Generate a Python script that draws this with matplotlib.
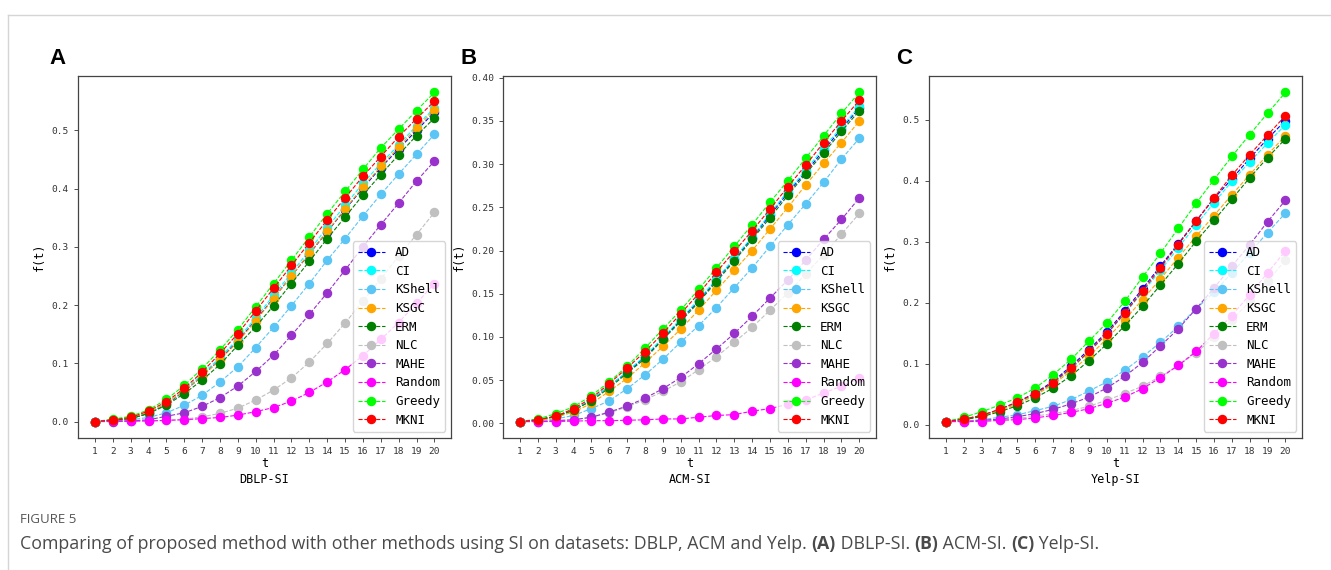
import matplotlib
matplotlib.use('Agg')
import matplotlib.pyplot as plt
from matplotlib.lines import Line2D

t = list(range(1, 21))
methods = ['AD', 'CI', 'KShell', 'KSGC', 'ERM', 'NLC', 'MAHE', 'Random', 'Greedy', 'MKNI']
colors = ['blue', 'cyan', '#5bc5f5', 'orange', 'green', 'silver', 'darkorchid', 'magenta', 'lime', 'red']

# DBLP-SI
dblp = {
    'AD': [0.0, 0.002, 0.005, 0.014, 0.030, 0.052, 0.078, 0.107, 0.139, 0.174, 0.212, 0.250, 0.288, 0.326, 0.364, 0.401, 0.436, 0.468, 0.500, 0.531],
    'CI': [0.0, 0.002, 0.006, 0.015, 0.031, 0.054, 0.081, 0.110, 0.142, 0.178, 0.217, 0.255, 0.294, 0.333, 0.371, 0.409, 0.443, 0.475, 0.508, 0.538],
    'KShell': [0.0, 0.001, 0.003, 0.007, 0.015, 0.028, 0.045, 0.068, 0.094, 0.127, 0.162, 0.199, 0.237, 0.277, 0.314, 0.353, 0.390, 0.425, 0.459, 0.493],
    'KSGC': [0.0, 0.002, 0.006, 0.015, 0.031, 0.053, 0.078, 0.106, 0.137, 0.173, 0.211, 0.250, 0.289, 0.327, 0.365, 0.403, 0.438, 0.471, 0.504, 0.535],
    'ERM': [0.0, 0.002, 0.005, 0.014, 0.028, 0.048, 0.071, 0.098, 0.131, 0.163, 0.199, 0.237, 0.275, 0.314, 0.351, 0.389, 0.424, 0.458, 0.491, 0.521],
    'NLC': [0.0, 0.0, 0.0005, 0.001, 0.002, 0.004, 0.008, 0.014, 0.023, 0.037, 0.054, 0.075, 0.102, 0.134, 0.169, 0.207, 0.245, 0.284, 0.321, 0.359],
    'MAHE': [0.0, 0.0, 0.001, 0.003, 0.009, 0.015, 0.026, 0.041, 0.061, 0.086, 0.114, 0.148, 0.184, 0.221, 0.260, 0.300, 0.338, 0.375, 0.413, 0.447],
    'Random': [0.0, 0.0005, 0.001, 0.001, 0.002, 0.003, 0.005, 0.007, 0.011, 0.017, 0.024, 0.035, 0.050, 0.068, 0.089, 0.113, 0.141, 0.170, 0.203, 0.237],
    'Greedy': [0.0, 0.004, 0.009, 0.020, 0.038, 0.062, 0.091, 0.123, 0.158, 0.197, 0.237, 0.277, 0.317, 0.357, 0.395, 0.433, 0.470, 0.502, 0.534, 0.565],
    'MKNI': [0.0, 0.003, 0.007, 0.018, 0.034, 0.057, 0.085, 0.117, 0.151, 0.190, 0.229, 0.268, 0.307, 0.346, 0.384, 0.421, 0.455, 0.489, 0.520, 0.550],
}

# ACM-SI
acm = {
    'AD': [0.002, 0.004, 0.008, 0.015, 0.027, 0.043, 0.059, 0.077, 0.098, 0.120, 0.142, 0.166, 0.190, 0.215, 0.241, 0.267, 0.291, 0.316, 0.341, 0.365],
    'CI': [0.002, 0.004, 0.008, 0.015, 0.027, 0.043, 0.060, 0.078, 0.099, 0.121, 0.143, 0.167, 0.191, 0.216, 0.243, 0.269, 0.293, 0.319, 0.343, 0.367],
    'KShell': [0.002, 0.003, 0.005, 0.009, 0.017, 0.026, 0.040, 0.056, 0.074, 0.094, 0.113, 0.134, 0.157, 0.180, 0.205, 0.230, 0.254, 0.279, 0.306, 0.330],
    'KSGC': [0.002, 0.003, 0.007, 0.013, 0.023, 0.037, 0.052, 0.070, 0.089, 0.109, 0.131, 0.154, 0.177, 0.200, 0.225, 0.250, 0.276, 0.301, 0.325, 0.350],
    'ERM': [0.002, 0.004, 0.008, 0.015, 0.026, 0.041, 0.058, 0.075, 0.097, 0.118, 0.140, 0.164, 0.188, 0.213, 0.238, 0.264, 0.289, 0.313, 0.338, 0.362],
    'NLC': [0.002, 0.002, 0.003, 0.004, 0.007, 0.012, 0.019, 0.027, 0.037, 0.048, 0.062, 0.077, 0.094, 0.111, 0.131, 0.151, 0.173, 0.195, 0.219, 0.243],
    'MAHE': [0.002, 0.002, 0.003, 0.004, 0.007, 0.013, 0.020, 0.029, 0.040, 0.053, 0.069, 0.086, 0.104, 0.124, 0.145, 0.166, 0.189, 0.213, 0.236, 0.261],
    'Random': [0.002, 0.002, 0.002, 0.0025, 0.003, 0.003, 0.0035, 0.004, 0.005, 0.005, 0.007, 0.009, 0.010, 0.014, 0.017, 0.022, 0.027, 0.035, 0.043, 0.052],
    'Greedy': [0.002, 0.005, 0.011, 0.019, 0.032, 0.048, 0.066, 0.087, 0.109, 0.131, 0.155, 0.180, 0.205, 0.230, 0.256, 0.281, 0.307, 0.333, 0.359, 0.383],
    'MKNI': [0.002, 0.004, 0.008, 0.017, 0.029, 0.046, 0.064, 0.083, 0.104, 0.127, 0.150, 0.175, 0.199, 0.223, 0.248, 0.274, 0.299, 0.325, 0.350, 0.374],
}

# Yelp-SI
yelp = {
    'AD': [0.005, 0.009, 0.015, 0.025, 0.037, 0.052, 0.071, 0.096, 0.123, 0.152, 0.186, 0.223, 0.260, 0.297, 0.334, 0.371, 0.403, 0.437, 0.469, 0.499],
    'CI': [0.005, 0.009, 0.015, 0.024, 0.036, 0.049, 0.068, 0.091, 0.119, 0.148, 0.182, 0.217, 0.253, 0.290, 0.328, 0.364, 0.399, 0.431, 0.462, 0.492],
    'KShell': [0.005, 0.006, 0.008, 0.012, 0.016, 0.023, 0.030, 0.041, 0.055, 0.070, 0.089, 0.111, 0.135, 0.161, 0.190, 0.217, 0.249, 0.282, 0.315, 0.347],
    'KSGC': [0.005, 0.008, 0.014, 0.023, 0.034, 0.048, 0.066, 0.088, 0.112, 0.141, 0.172, 0.205, 0.239, 0.274, 0.309, 0.343, 0.377, 0.410, 0.443, 0.474],
    'ERM': [0.005, 0.008, 0.013, 0.021, 0.031, 0.044, 0.060, 0.080, 0.105, 0.132, 0.162, 0.194, 0.229, 0.264, 0.301, 0.335, 0.370, 0.405, 0.438, 0.469],
    'NLC': [0.005, 0.006, 0.007, 0.008, 0.010, 0.014, 0.018, 0.023, 0.030, 0.040, 0.051, 0.063, 0.079, 0.097, 0.118, 0.143, 0.171, 0.202, 0.235, 0.270],
    'MAHE': [0.005, 0.005, 0.007, 0.009, 0.013, 0.018, 0.025, 0.034, 0.045, 0.060, 0.079, 0.102, 0.129, 0.157, 0.190, 0.224, 0.260, 0.295, 0.333, 0.368],
    'Random': [0.005, 0.005, 0.005, 0.007, 0.008, 0.011, 0.015, 0.020, 0.026, 0.035, 0.045, 0.059, 0.077, 0.097, 0.120, 0.149, 0.179, 0.213, 0.249, 0.285],
    'Greedy': [0.005, 0.012, 0.021, 0.032, 0.044, 0.060, 0.082, 0.107, 0.137, 0.167, 0.202, 0.242, 0.281, 0.322, 0.363, 0.402, 0.440, 0.476, 0.511, 0.545],
    'MKNI': [0.005, 0.009, 0.015, 0.025, 0.037, 0.051, 0.069, 0.093, 0.120, 0.149, 0.183, 0.219, 0.257, 0.295, 0.334, 0.372, 0.409, 0.443, 0.475, 0.507],
}

datasets = [dblp, acm, yelp]
names = ['DBLP-SI', 'ACM-SI', 'Yelp-SI']
letters = ['A', 'B', 'C']

mono = 'DejaVu Sans Mono'
fig = plt.figure(figsize=(13.31, 5.70), dpi=100)

# panel geometry (figure fractions)
lefts = [0.0586, 0.3779, 0.698]
letter_x = [0.037, 0.346, 0.673]
for i, data in enumerate(datasets):
    ax = fig.add_axes([lefts[i], 0.2316, 0.2805, 0.635])
    for m, c in zip(methods, colors):
        ax.plot(t, data[m], linestyle='--', marker='o', color=c, linewidth=0.8,
                markersize=5.8, label=m)
    ax.set_xticks(t)
    for lab in ax.get_xticklabels() + ax.get_yticklabels():
        lab.set_fontfamily(mono)
        lab.set_fontsize(6.8)
        lab.set_color('#333333')
    if i == 1:
        ax.yaxis.set_major_formatter(matplotlib.ticker.FormatStrFormatter('%.2f'))
    ax.tick_params(length=3, width=0.6, colors='#333333')
    for s in ax.spines.values():
        s.set_color('#444444')
        s.set_linewidth(0.9)
    ax.set_xlabel('t\n' + names[i], fontfamily=mono, fontsize=8.5, linespacing=1.3, labelpad=1)
    ax.set_ylabel('f(t)', fontfamily=mono, fontsize=8.5, labelpad=4)
    ax.legend(loc='lower right', prop={'family': mono, 'size': 9}, handlelength=2.2,
              borderpad=0.4, labelspacing=0.45)
    fig.text(letter_x[i], 0.897, letters[i], fontfamily='Liberation Sans', fontweight='bold',
             fontsize=16, va='center', ha='left')

# journal frame lines
fig.add_artist(Line2D([0.006, 1.0], [0.974, 0.974], color='#d5d5d5', linewidth=1))
fig.add_artist(Line2D([0.006, 0.006], [0.0, 0.974], color='#d5d5d5', linewidth=1))

# caption
fig.text(0.015, 0.089, 'FIGURE 5', fontfamily='Open Sans', fontsize=9.5, color='#555555', va='center')
pieces = [
    ('Comparing of proposed method with other methods using SI on datasets: DBLP, ACM and Yelp. ', 'normal'),
    ('(A)', 'bold'), (' DBLP-SI. ', 'normal'),
    ('(B)', 'bold'), (' ACM-SI. ', 'normal'),
    ('(C)', 'bold'), (' Yelp-SI.', 'normal'),
]
renderer = fig.canvas.get_renderer()
x = 0.015
for txt, w in pieces:
    tx = fig.text(x, 0.045, txt, fontfamily='Open Sans', fontsize=12.8, color='#4a4a4a',
                  fontweight=w, va='center')
    bb = tx.get_window_extent(renderer=renderer)
    x += bb.width / fig.bbox.width

fig.savefig('out.png', dpi=100)
